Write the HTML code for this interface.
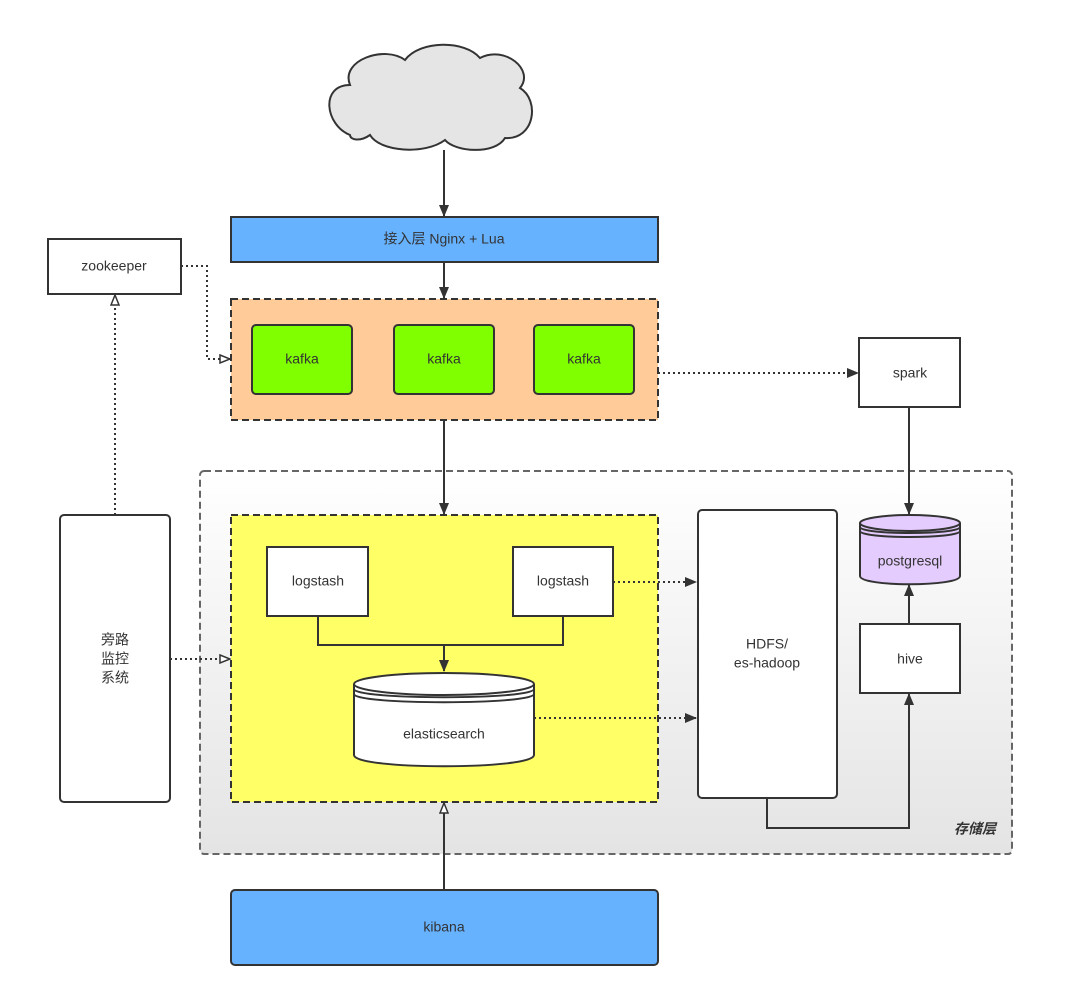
<!DOCTYPE html>
<html><head><meta charset="utf-8"><style>
body{margin:0;background:#fff}
text{font-family:"Liberation Sans","Noto Sans CJK SC",sans-serif;font-size:14px;fill:#333;text-anchor:middle;dominant-baseline:middle}
</style></head><body>
<svg width="1084" height="997" viewBox="0 0 1084 997" xmlns="http://www.w3.org/2000/svg">
<defs>
<linearGradient id="g" x1="0" y1="0" x2="0" y2="1"><stop offset="0" stop-color="#fff"/><stop offset="1" stop-color="#e4e4e4"/></linearGradient>
<marker id="f" markerWidth="12" markerHeight="10" refX="11" refY="5" orient="auto" markerUnits="userSpaceOnUse"><path d="M0,0 L12,5 L0,10 z" fill="#333"/></marker>
<marker id="o" markerWidth="12" markerHeight="10" refX="11" refY="5" orient="auto" markerUnits="userSpaceOnUse"><path d="M1,1 L11,5 L1,9 z" fill="#fff" stroke="#333" stroke-width="1.5"/></marker>
</defs>
<g stroke="#333" stroke-width="2">
<!-- cloud -->
<path d="M350,135 C325,125 320,85 350,85 C340,60 385,45 405,60 C420,40 465,40 480,58 C505,45 535,70 520,88 C540,100 535,140 505,138 C495,155 455,152 445,140 C425,155 380,152 370,135 C360,142 350,140 350,135 z" fill="#e5e5e5"/>
<!-- storage -->
<rect x="200" y="471" width="812" height="383" rx="4" fill="url(#g)" stroke="#666" stroke-dasharray="7,4"/>
<line x1="444" y1="150" x2="444" y2="216" marker-end="url(#f)"/>
<rect x="231" y="217" width="427" height="45" fill="#66b2ff"/>
<line x1="444" y1="262" x2="444" y2="298" marker-end="url(#f)"/>
<rect x="231" y="299" width="427" height="121" fill="#ffcc99" stroke-dasharray="7,4"/>
<rect x="252" y="325" width="100" height="69" rx="4" fill="#80ff00"/>
<rect x="394" y="325" width="100" height="69" rx="4" fill="#80ff00"/>
<rect x="534" y="325" width="100" height="69" rx="4" fill="#80ff00"/>
<rect x="48" y="239" width="133" height="55" fill="#fff"/>
<path d="M181,266 H207 V359 H230" fill="none" stroke-dasharray="2,3" marker-end="url(#o)"/>
<rect x="859" y="338" width="101" height="69" fill="#fff"/>
<path d="M658,373 H858" fill="none" stroke-dasharray="2,3" marker-end="url(#f)"/>
<line x1="444" y1="420" x2="444" y2="514" marker-end="url(#f)"/>
<rect x="231" y="515" width="427" height="287" fill="#ffff66" stroke-dasharray="7,4"/>
<rect x="267" y="547" width="101" height="69" fill="#fff"/>
<rect x="513" y="547" width="100" height="69" fill="#fff"/>
<path d="M318,616 V645 H563 V616" fill="none"/>
<line x1="444" y1="645" x2="444" y2="671" marker-end="url(#f)"/>
<path d="M354,684 V755 C354,770 534,770 534,755 V684" fill="#fff"/>
<ellipse cx="444" cy="684" rx="90" ry="11" fill="#fff"/>
<path d="M354,689 C354,700 534,700 534,689 M354,694 C354,705 534,705 534,694" fill="none"/>
<path d="M613,582 H696" fill="none" stroke-dasharray="2,3" marker-end="url(#f)"/>
<path d="M534,718 H696" fill="none" stroke-dasharray="2,3" marker-end="url(#f)"/>
<rect x="698" y="510" width="139" height="288" rx="4" fill="#fff"/>
<line x1="909" y1="407" x2="909" y2="514" marker-end="url(#f)"/>
<path d="M860,523 V576 C860,587 960,587 960,576 V523" fill="#e5ccff"/>
<ellipse cx="910" cy="523" rx="50" ry="8" fill="#e5ccff"/>
<path d="M860,527 C860,535 960,535 960,527 M860,531 C860,539 960,539 960,531" fill="none"/>
<rect x="860" y="624" width="100" height="69" fill="#fff"/>
<line x1="909" y1="624" x2="909" y2="585" marker-end="url(#f)"/>
<path d="M767,798 V828 H909 V694" fill="none" marker-end="url(#f)"/>
<rect x="60" y="515" width="110" height="287" rx="4" fill="#fff"/>
<path d="M115,515 V295" fill="none" stroke-dasharray="2,3" marker-end="url(#o)"/>
<path d="M170,659 H230" fill="none" stroke-dasharray="2,3" marker-end="url(#o)"/>
<rect x="231" y="890" width="427" height="75" rx="4" fill="#66b2ff"/>
<line x1="444" y1="890" x2="444" y2="803" marker-end="url(#o)"/>
</g>
<g stroke="none">
<text x="444" y="240">接入层  Nginx + Lua</text>
<text x="114" y="267">zookeeper</text>
<text x="302" y="360">kafka</text>
<text x="444" y="360">kafka</text>
<text x="584" y="360">kafka</text>
<text x="910" y="374">spark</text>
<text x="318" y="582">logstash</text>
<text x="563" y="582">logstash</text>
<text x="444" y="735">elasticsearch</text>
<text x="767" y="645">HDFS/</text>
<text x="767" y="664">es-hadoop</text>
<text x="910" y="562">postgresql</text>
<text x="910" y="660">hive</text>
<text x="115" y="641">旁路</text>
<text x="115" y="660">监控</text>
<text x="115" y="679">系统</text>
<text x="444" y="928">kibana</text>
<text x="975" y="830" style="font-style:italic;font-weight:bold">存储层</text>
</g>
</svg>
</body></html>
